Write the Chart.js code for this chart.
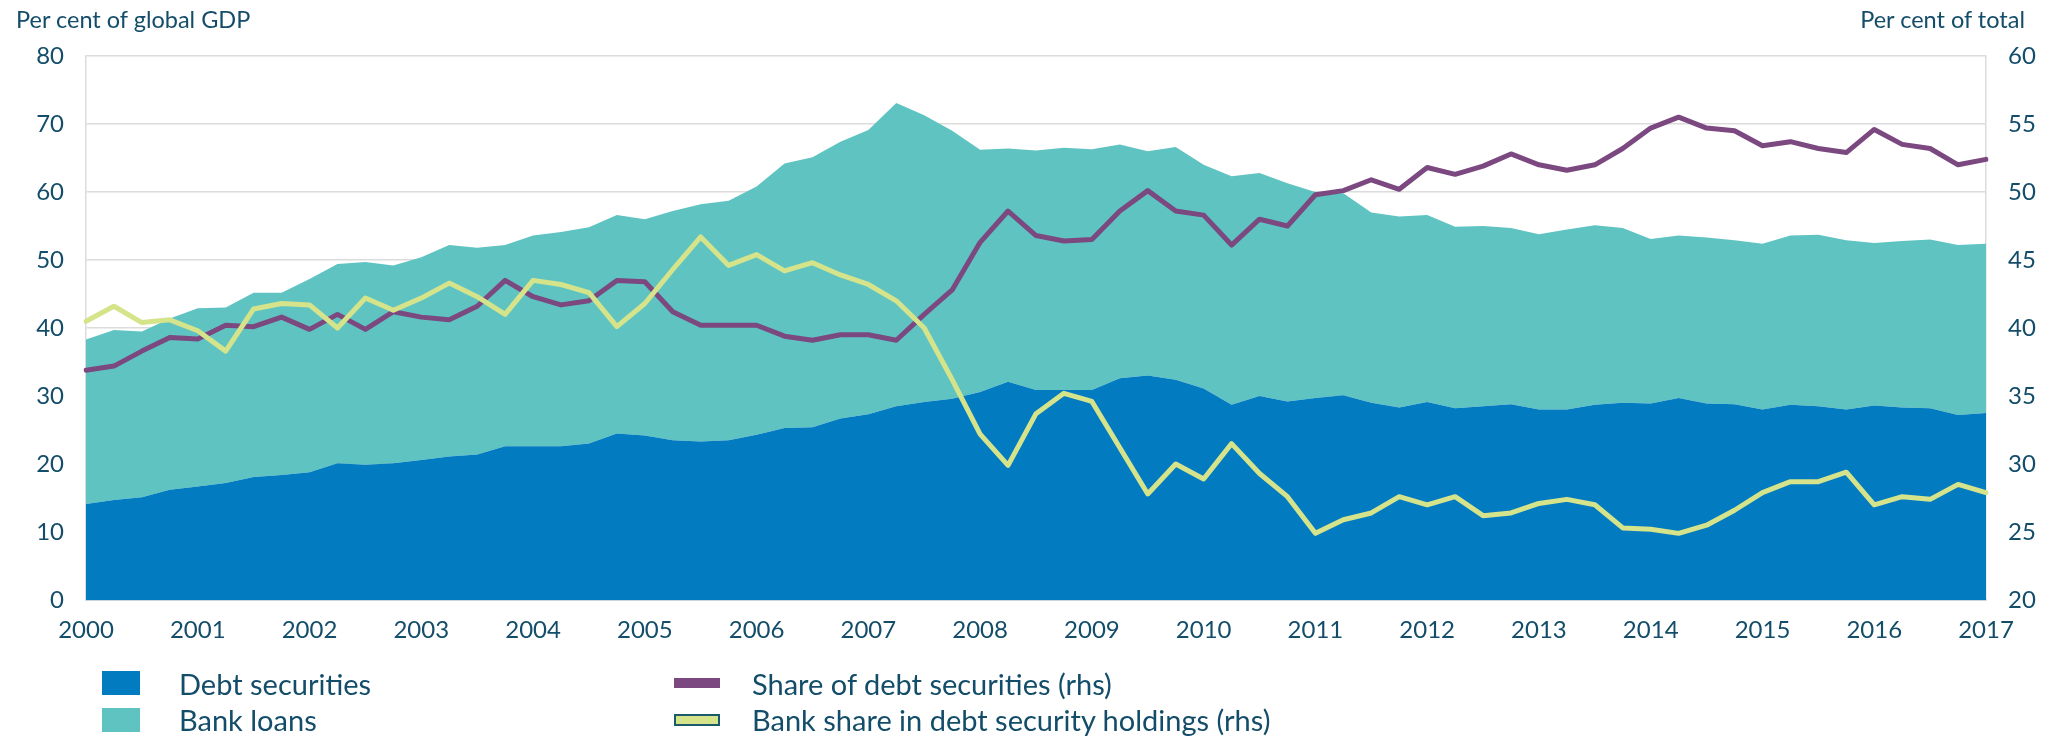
<!DOCTYPE html>
<html lang="en">
<head>
	<meta charset="UTF-8">
	<title>Debt securities and bank loans</title>
	<script src="https://cdn.jsdelivr.net/npm/chart.js@4/dist/chart.umd.min.js"></script>
	<style>
		body { margin: 0; background: #fff; }
		#wrap { position: relative; width: 2049px; height: 738px; font-family: Lato, "Open Sans", sans-serif; color: #134d69; }
		#wrap canvas { position: absolute; left: 0; top: 0; }
		.unit { position: absolute; top: 5px; font-size: 23.5px; white-space: nowrap; }
		.leg { position: absolute; font-size: 29px; white-space: nowrap; line-height: 34px; }
		.sw { position: absolute; box-sizing: border-box; }
	</style>
</head>
<body>
<div id="wrap">
	<canvas id="chart" width="2049" height="738"></canvas>
	<div class="unit" style="left:16px;">Per cent of global GDP</div>
	<div class="unit" style="right:24px;">Per cent of total</div>

	<div class="sw" style="left:102px; top:671px; width:38px; height:24px; background:#037bc1;"></div>
	<div class="leg" style="left:179px; top:667px;">Debt securities</div>
	<div class="sw" style="left:102px; top:708px; width:38px; height:24px; background:#5fc4c1;"></div>
	<div class="leg" style="left:179px; top:703px;">Bank loans</div>

	<div class="sw" style="left:674px; top:678px; width:46px; height:10px; background:#7b4880;"></div>
	<div class="leg" style="left:752px; top:667px;">Share of debt securities (rhs)</div>
	<div class="sw" style="left:674px; top:714px; width:46px; height:12px; background:#d5e38a; border:2px solid #1b5a6a;"></div>
	<div class="leg" style="left:752px; top:703px;">Bank share in debt security holdings (rhs)</div>
</div>

<script>
// quarterly observations, 2000 Q1 to 2017 Q1
var quarters = [
	'2000Q1','2000Q2','2000Q3','2000Q4','2001Q1','2001Q2','2001Q3','2001Q4',
	'2002Q1','2002Q2','2002Q3','2002Q4','2003Q1','2003Q2','2003Q3','2003Q4',
	'2004Q1','2004Q2','2004Q3','2004Q4','2005Q1','2005Q2','2005Q3','2005Q4',
	'2006Q1','2006Q2','2006Q3','2006Q4','2007Q1','2007Q2','2007Q3','2007Q4',
	'2008Q1','2008Q2','2008Q3','2008Q4','2009Q1','2009Q2','2009Q3','2009Q4',
	'2010Q1','2010Q2','2010Q3','2010Q4','2011Q1','2011Q2','2011Q3','2011Q4',
	'2012Q1','2012Q2','2012Q3','2012Q4','2013Q1','2013Q2','2013Q3','2013Q4',
	'2014Q1','2014Q2','2014Q3','2014Q4','2015Q1','2015Q2','2015Q3','2015Q4',
	'2016Q1','2016Q2','2016Q3','2016Q4','2017Q1'
];

// per cent of global GDP (stacked)
var debtSecurities = [
	14.1, 14.7, 15.1, 16.2, 16.7, 17.2, 18.1, 18.4, 18.8, 20.1, 19.9, 20.1,
	20.6, 21.1, 21.4, 22.6, 22.6, 22.6, 23.0, 24.5, 24.2, 23.5, 23.3, 23.5,
	24.3, 25.3, 25.4, 26.7, 27.3, 28.5, 29.1, 29.6, 30.6, 32.1, 30.9, 30.9,
	30.9, 32.6, 33.0, 32.4, 31.1, 28.7, 30.0, 29.2, 29.7, 30.1, 29.0, 28.3,
	29.1, 28.2, 28.5, 28.8, 28.0, 28.0, 28.7, 29.0, 28.9, 29.7, 28.9, 28.8,
	28.0, 28.7, 28.5, 28.0, 28.6, 28.3, 28.2, 27.2, 27.5
];
var bankLoans = [
	24.2, 25.0, 24.4, 25.2, 26.2, 25.8, 27.1, 26.8, 28.4, 29.3, 29.8, 29.1,
	29.8, 31.1, 30.4, 29.6, 31.0, 31.5, 31.8, 32.1, 31.8, 33.7, 34.9, 35.2,
	36.5, 38.9, 39.7, 40.7, 41.8, 44.6, 42.2, 39.4, 35.6, 34.3, 35.2, 35.6,
	35.4, 34.4, 33.0, 34.2, 32.9, 33.6, 32.8, 32.1, 30.3, 29.7, 28.0, 28.1,
	27.5, 26.7, 26.5, 25.9, 25.8, 26.5, 26.4, 25.7, 24.2, 23.9, 24.4, 24.1,
	24.4, 24.9, 25.2, 24.9, 23.9, 24.5, 24.8, 25.0, 24.9
];

// per cent of total (rhs)
var shareDebtSecurities = [
	36.9, 37.2, 38.3, 39.3, 39.2, 40.2, 40.1, 40.8, 39.9, 41.0, 39.9, 41.2,
	40.8, 40.6, 41.6, 43.5, 42.3, 41.7, 42.0, 43.5, 43.4, 41.2, 40.2, 40.2,
	40.2, 39.4, 39.1, 39.5, 39.5, 39.1, 41.0, 42.8, 46.3, 48.6, 46.8, 46.4,
	46.5, 48.6, 50.1, 48.6, 48.3, 46.1, 48.0, 47.5, 49.8, 50.1, 50.9, 50.2,
	51.8, 51.3, 51.9, 52.8, 52.0, 51.6, 52.0, 53.2, 54.7, 55.5, 54.7, 54.5,
	53.4, 53.7, 53.2, 52.9, 54.6, 53.5, 53.2, 52.0, 52.4
];
var bankShareHoldings = [
	40.5, 41.6, 40.4, 40.6, 39.8, 38.3, 41.4, 41.8, 41.7, 40.0, 42.2, 41.3,
	42.2, 43.3, 42.3, 41.0, 43.5, 43.2, 42.6, 40.1, 41.8, 44.3, 46.7, 44.6,
	45.4, 44.2, 44.8, 43.9, 43.2, 42.0, 40.0, 36.2, 32.2, 29.9, 33.7, 35.2,
	34.6, 31.2, 27.8, 30.0, 28.9, 31.5, 29.3, 27.6, 24.9, 25.9, 26.4, 27.6,
	27.0, 27.6, 26.2, 26.4, 27.1, 27.4, 27.0, 25.3, 25.2, 24.9, 25.5, 26.6,
	27.9, 28.7, 28.7, 29.4, 27.0, 27.6, 27.4, 28.5, 27.9
];

var textColour = '#134d69';
var gridColour = '#dcdcdc';

var ctx = document.getElementById('chart').getContext('2d');

var myChart = new Chart(ctx, {
	type: 'line',
	data: {
		labels: quarters,
		datasets: [{
			label: 'Debt securities',
			data: debtSecurities,
			yAxisID: 'y',
			backgroundColor: '#037bc1',
			borderWidth: 0,
			pointRadius: 0,
			fill: 'origin',
			order: 2
		}, {
			label: 'Bank loans',
			data: bankLoans,
			yAxisID: 'y',
			backgroundColor: '#5fc4c1',
			borderWidth: 0,
			pointRadius: 0,
			fill: '-1',
			order: 3
		}, {
			label: 'Share of debt securities (rhs)',
			data: shareDebtSecurities,
			yAxisID: 'y2',
			borderColor: '#7b4880',
			borderWidth: 5,
			pointRadius: 0,
			fill: false,
			stack: 'rhs1',
			borderCapStyle: 'round',
			borderJoinStyle: 'round',
			order: 1
		}, {
			label: 'Bank share in debt security holdings (rhs)',
			data: bankShareHoldings,
			yAxisID: 'y2',
			borderColor: '#d5e38a',
			borderWidth: 5,
			pointRadius: 0,
			fill: false,
			stack: 'rhs2',
			borderCapStyle: 'round',
			borderJoinStyle: 'round',
			order: 0
		}]
	},
	options: {
		responsive: false,
		animation: false,
		layout: { padding: { top: 56, left: 0, right: 0, bottom: 0 } },
		plugins: {
			legend: { display: false },
			tooltip: { enabled: false }
		},
		scales: {
			x: {
				type: 'category',
				offset: false,
				grid: { display: false, drawTicks: false },
				border: { display: true, color: '#c9d5de', width: 2 },
				ticks: {
					autoSkip: false,
					maxRotation: 0,
					padding: 16,
					color: textColour,
					font: { family: 'Lato', size: 24 },
					callback: function(value, index) {
						return index % 4 === 0 ? quarters[index].slice(0, 4) : '';
					}
				},
				afterFit: function(scale) { scale.height = 138; }
			},
			y: {
				position: 'left',
				stacked: true,
				min: 0,
				max: 80,
				grid: { color: gridColour, lineWidth: 1.5, drawTicks: false },
				border: { display: true, color: gridColour, width: 1.5 },
				ticks: {
					stepSize: 10,
					padding: 22,
					color: textColour,
					font: { family: 'Lato', size: 24 }
				},
				afterFit: function(scale) { scale.width = 86; }
			},
			y2: {
				position: 'right',
				stacked: false,
				min: 20,
				max: 60,
				grid: { drawOnChartArea: false, drawTicks: false },
				border: { display: true, color: gridColour, width: 1.5 },
				ticks: {
					stepSize: 5,
					padding: 22,
					color: textColour,
					font: { family: 'Lato', size: 24 }
				},
				afterFit: function(scale) { scale.width = 63; }
			}
		}
	}
});
</script>
</body>
</html>
